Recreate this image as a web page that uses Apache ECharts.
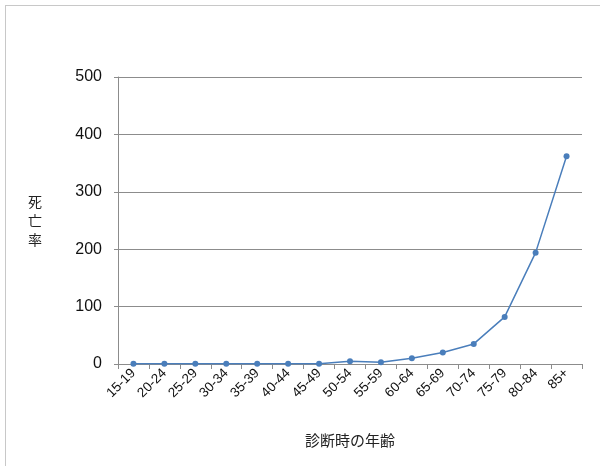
<!DOCTYPE html>
<html>
<head>
<meta charset="utf-8">
<script src="https://cdn.jsdelivr.net/npm/echarts@6/dist/echarts.min.js"></script>
<style>
  html, body { margin: 0; padding: 0; background: #fff; overflow: hidden; }
  #frame { position: absolute; left: 5px; top: 5px; width: 620px; height: 480px; border: 1px solid #c8c8c8; box-sizing: border-box; }
  #chart { position: absolute; left: 0; top: 0; width: 600px; height: 466px; }
</style>
</head>
<body>
<div id="frame"></div>
<div id="chart"></div>
<script>
// 年齢階級
var ageGroups = ['15-19', '20-24', '25-29', '30-34', '35-39', '40-44', '45-49',
  '50-54', '55-59', '60-64', '65-69', '70-74', '75-79', '80-84', '85+'];
// 死亡率
var deathRate = [0.3, 0.3, 0.3, 0.3, 0.3, 0.3, 0.5, 5, 3, 10, 20, 35, 82, 194, 362];
var yTicks = [0, 100, 200, 300, 400, 500];

var chart = echarts.init(document.getElementById('chart'));
chart.setOption({
  animation: false,
  grid: { left: 118, right: 18, top: 77, bottom: 102 },
  xAxis: {
    type: 'category',
    data: ageGroups,
    name: '診断時の年齢',
    nameLocation: 'middle',
    nameGap: 69,
    nameTextStyle: { fontSize: 15, color: '#222', fontFamily: 'Noto Sans CJK JP' },
    axisLine: { lineStyle: { color: '#8c8c8c', width: 1 } },
    axisTick: { show: true, length: 5, lineStyle: { color: '#8c8c8c' } },
    axisLabel: { rotate: 45, fontSize: 13.5, color: '#111', margin: 7, fontFamily: 'Liberation Sans' }
  },
  yAxis: {
    type: 'value',
    min: yTicks[0],
    max: yTicks[yTicks.length - 1],
    interval: 100,
    name: '死\n亡\n率',
    nameLocation: 'middle',
    nameRotate: 0,
    nameGap: 76,
    nameTextStyle: { fontSize: 14, color: '#222', lineHeight: 19, fontFamily: 'Noto Sans CJK JP' },
    axisLine: { show: true, lineStyle: { color: '#8c8c8c', width: 1 } },
    axisTick: { show: true, length: 4, lineStyle: { color: '#8c8c8c' } },
    axisLabel: { fontSize: 16, color: '#111', margin: 16, fontFamily: 'Liberation Sans' },
    splitLine: { lineStyle: { color: '#8c8c8c', width: 1 } }
  },
  series: [{
    type: 'line',
    data: deathRate,
    symbol: 'circle',
    symbolSize: 6,
    lineStyle: { color: '#4a7ebb', width: 1.5 },
    itemStyle: { color: '#4a7ebb' }
  }]
});
</script>
</body>
</html>
